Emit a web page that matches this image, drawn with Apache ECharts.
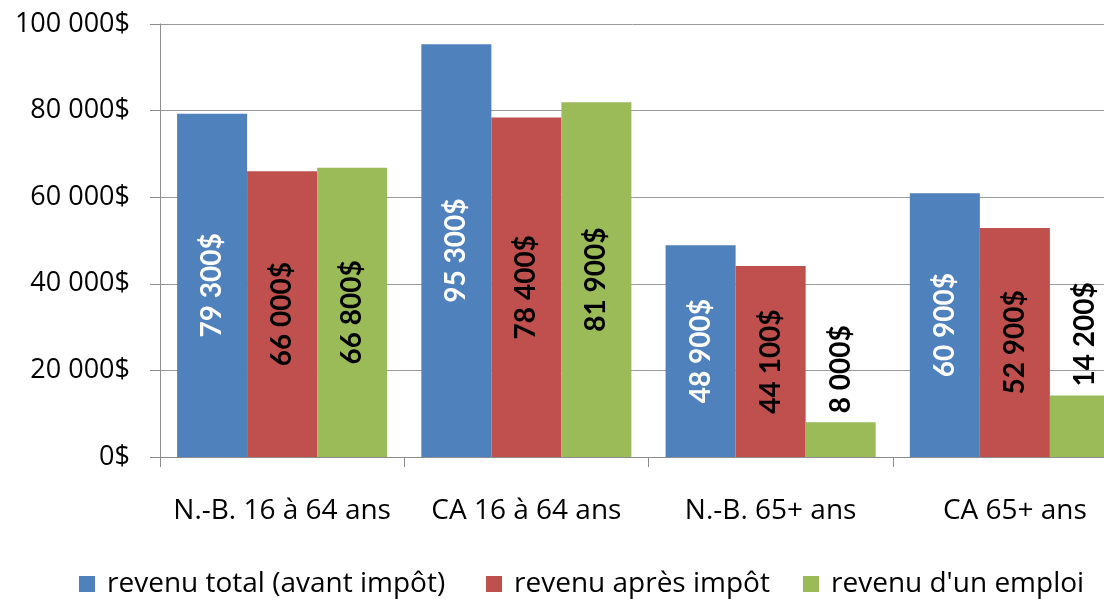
<!DOCTYPE html>
<html>
<head>
<meta charset="utf-8">
<title>Revenus</title>
<script src="https://cdn.jsdelivr.net/npm/echarts@6/dist/echarts.min.js"></script>
<style>
  html, body { margin: 0; padding: 0; background: #fff; }
  #chart { width: 1104px; height: 599px; }
</style>
</head>
<body>
<div id="chart"></div>
<script>
// categories and series
var categories = ['N.-B. 16 à 64 ans', 'CA 16 à 64 ans', 'N.-B. 65+ ans', 'CA 65+ ans']
var seriesNames = ['revenu total (avant impôt)', 'revenu après impôt', "revenu d'un emploi"]
var revenuTotal = [79300, 95300, 48900, 60900]
var revenuApres = [66000, 78400, 44100, 52900]
var revenuEmploi = [66800, 81900, 8000, 14200]
var yTicks = [0, 20000, 40000, 60000, 80000, 100000]

var colors = ['#4F81BD', '#C0504D', '#9BBB59']
var font = 'Open Sans'
var labelFont = 'Lato'

function fmt(v) {
  return String(v).replace(/\B(?=(\d{3})+(?!\d))/g, ' ') + '$'
}

// bars too short for the label get it above the bar
function toData(values) {
  return values.map(function (v) {
    if (v < 20000) {
      return {
        value: v,
        label: { position: 'top', align: 'left', verticalAlign: 'middle', distance: 9 }
      }
    }
    return v
  })
}

function barSeries(name, values, color, labelColor) {
  return {
    name: name,
    type: 'bar',
    data: toData(values),
    barGap: '0%',
    barCategoryGap: '14%',
    itemStyle: { color: color },
    label: {
      show: true,
      position: 'inside',
      rotate: 90,
      color: labelColor,
      fontFamily: labelFont,
      fontWeight: 'bold',
      fontSize: 28,
      formatter: function (p) { return fmt(p.value) }
    }
  }
}

var myChart = echarts.init(document.getElementById('chart'))

var legendBase = {
  orient: 'horizontal',
  top: 569,
  icon: 'rect',
  itemWidth: 16,
  itemHeight: 16,
  padding: 0,
  textStyle: { fontFamily: font, fontSize: 28, lineHeight: 30, color: '#000', padding: [0, 0, 0, 7] }
}

var option = {
  animation: false,
  backgroundColor: '#fff',
  grid: { left: 160, top: 24, width: 977, height: 433, outerBoundsMode: 'none', containLabel: false },
  legend: [
    Object.assign({}, legendBase, { left: 79, data: [seriesNames[0]] }),
    Object.assign({}, legendBase, { left: 486, data: [seriesNames[1]] }),
    Object.assign({}, legendBase, { left: 803, data: [seriesNames[2]] })
  ],
  xAxis: {
    type: 'category',
    data: categories,
    axisLine: { lineStyle: { color: '#8c8c8c', width: 1 } },
    axisTick: { show: true, length: 10, lineStyle: { color: '#8c8c8c' } },
    axisLabel: { interval: 0, margin: 40, fontFamily: font, fontSize: 28, color: '#000' }
  },
  yAxis: {
    type: 'value',
    min: yTicks[0],
    max: yTicks[yTicks.length - 1],
    interval: yTicks[1] - yTicks[0],
    axisLine: { show: true, lineStyle: { color: '#8c8c8c', width: 1 } },
    axisTick: { show: true, length: 10, lineStyle: { color: '#8c8c8c' } },
    splitLine: { lineStyle: { color: '#9a9a9a', width: 1 } },
    axisLabel: {
      margin: 30,
      fontFamily: font,
      fontSize: 27,
      color: '#000',
      formatter: function (v) { return fmt(v) }
    }
  },
  series: [
    barSeries(seriesNames[0], revenuTotal, colors[0], '#fff'),
    barSeries(seriesNames[1], revenuApres, colors[1], '#000'),
    barSeries(seriesNames[2], revenuEmploi, colors[2], '#000')
  ]
}

myChart.setOption(option)
window.addEventListener('resize', function () { myChart.resize() })
</script>
</body>
</html>
